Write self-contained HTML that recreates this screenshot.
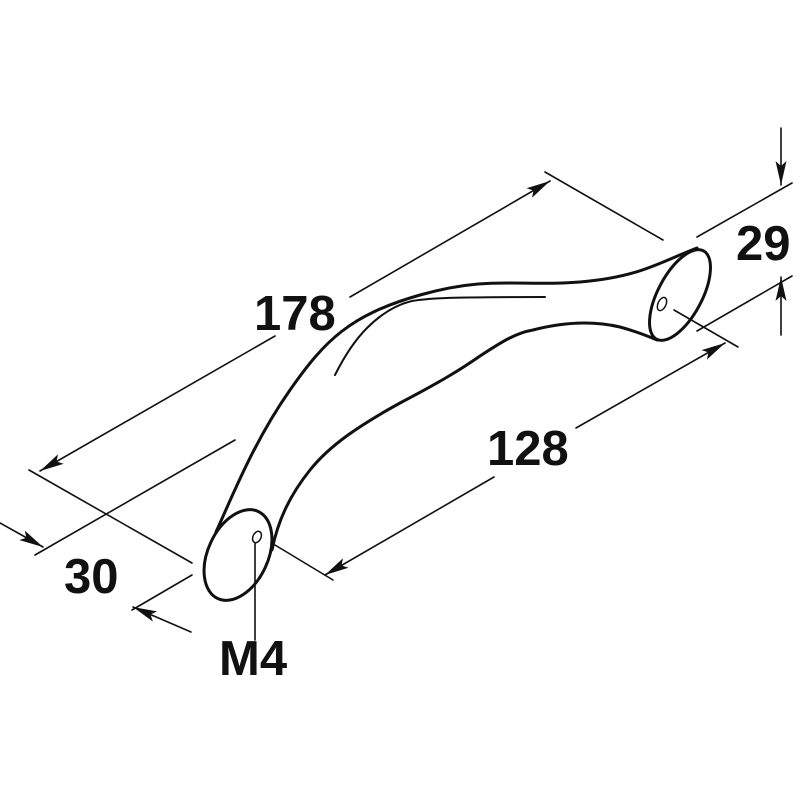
<!DOCTYPE html>
<html><head><meta charset="utf-8"><style>
html,body{margin:0;padding:0;background:#fff}
svg{display:block}
text{font-family:"Liberation Sans",sans-serif;font-weight:bold;fill:#111}
</style></head><body>
<svg width="800" height="800" viewBox="0 0 800 800" xmlns="http://www.w3.org/2000/svg">
<defs>
<marker id="a" viewBox="0 0 24 11" refX="24" refY="5.5" markerWidth="24" markerHeight="11" markerUnits="userSpaceOnUse" orient="auto">
<path d="M0,0 L24,5.5 L0,11 L5,5.5 Z" fill="#111"/>
</marker>
</defs>
<g stroke="#111" fill="none" stroke-linecap="round">
<path d="M216,532 C235,490 255,440 290,390 S350,315 420,295 S520,287 580,282 S660,262 697,248" stroke-width="3"/>
<path d="M272,550 C278,520 290,495 310,470 C330,445 360,425 400,403 C440,382 460,370 480,356 C500,343 515,333 533,330 C560,323 590,320 620,327 C635,331 645,335 657,340" stroke-width="3"/>
<path d="M335,375 C345,355 355,340 367,328 C380,315 395,305 412,301 C430,298 450,297 545,297" stroke-width="2"/>
<ellipse cx="680" cy="295" rx="22" ry="50" transform="rotate(28 680 295)" stroke-width="3"/>
<ellipse cx="662" cy="304" rx="4" ry="7" transform="rotate(25 662 304)" stroke-width="1.5"/>
<ellipse cx="238" cy="555" rx="30" ry="48" transform="rotate(25 238 555)" stroke-width="3"/>
<ellipse cx="257" cy="537" rx="4" ry="6" transform="rotate(25 257 537)" stroke-width="1.5"/>
<g stroke-width="1.6">
<line x1="275" y1="336" x2="40" y2="471" marker-end="url(#a)"/>
<line x1="350" y1="297" x2="550" y2="181" marker-end="url(#a)"/>
<line x1="545" y1="172" x2="663" y2="240"/>
<line x1="29" y1="470" x2="192" y2="563"/>
<line x1="35" y1="555" x2="235" y2="440"/>
<line x1="494" y1="477" x2="325" y2="575" marker-end="url(#a)"/>
<line x1="576" y1="428" x2="725" y2="343" marker-end="url(#a)"/>
<line x1="275" y1="545" x2="333" y2="580"/>
<line x1="674" y1="310" x2="738" y2="347"/>
<line x1="697" y1="237" x2="792" y2="183"/>
<line x1="697" y1="331" x2="792" y2="276"/>
<line x1="781" y1="128" x2="781" y2="185" marker-end="url(#a)"/>
<line x1="781" y1="335" x2="781" y2="277" marker-end="url(#a)"/>
<line x1="0" y1="523" x2="43" y2="547" marker-end="url(#a)"/>
<line x1="191" y1="632" x2="133" y2="607" marker-end="url(#a)"/>
<line x1="132" y1="610" x2="192" y2="575"/>
<line x1="255" y1="543" x2="255" y2="640"/>
</g>
</g>
<text x="254" y="330" font-size="49">178</text>
<text x="487" y="465" font-size="49">128</text>
<text x="736" y="260" font-size="49">29</text>
<text x="64" y="593" font-size="49">30</text>
<text x="219" y="675" font-size="49">M4</text>
</svg>
</body></html>
